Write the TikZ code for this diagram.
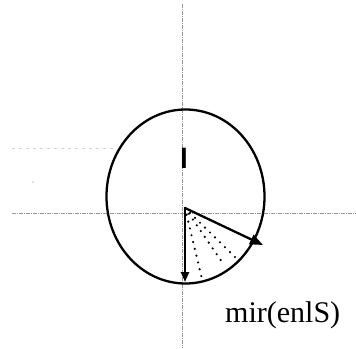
\documentclass[tikz,border=0pt]{standalone}
\usepackage{fontspec}
\setmainfont{Liberation Serif}
\newfontfamily\barfont{Liberation Sans}
\usetikzlibrary{arrows.meta,shapes.geometric}
\tikzset{
  axis/.style={gray!80, line width=0.9pt, dash pattern=on 4pt off 1pt on 1pt off 1pt},
  faint/.style={gray!35, line width=1pt, dash pattern=on 3pt off 4pt},
  curve/.style={black, line width=2.3pt},
  vec/.style={black, line width=2.3pt},
  ray/.style={black, line width=2.4pt, line cap=round, dash pattern=on 0pt off 7pt},
  lbl/.style={inner sep=0pt, font=\fontsize{30}{32}\selectfont}
}
\begin{document}
\begin{tikzpicture}[x=1pt,y=-1pt]
\useasboundingbox (0,0) rectangle (356,348);
% axes
\coordinate (xl) at (12,213);
\coordinate (xr) at (356,213);
\coordinate (yt) at (182,4);
\coordinate (yb) at (182,348);
\draw[axis] (xl) -- (xr);
\draw[axis] (yt) -- (yb);
% faint marks
\coordinate (fa) at (12,148);
\coordinate (fb) at (115,148);
\draw[faint] (fa) -- (fb);
\node[circle, fill=gray!40, inner sep=0pt, minimum size=2pt] (fd) at (33,182) {};
% ellipse
\node[draw, curve, ellipse, inner sep=0pt, minimum width=158pt, minimum height=174pt] (ell) at (185.5,196.5) {};
% small label
\node[inner sep=0pt, font=\barfont\bfseries\fontsize{28}{30}\selectfont, anchor=base] (bar) at (184,168) {l};
% vectors
\coordinate (O) at (185,208);
\coordinate (A) at (263,245);
\coordinate (B) at (185,282);
\coordinate (r1) at (202,279);
\coordinate (r2) at (222,262);
\coordinate (r3) at (239,261);
\draw[ray] (O) -- (r1);
\draw[ray] (O) -- (r2);
\draw[ray] (O) -- (r3);
\draw[vec, -{Triangle[length=13pt,width=10pt]}] (O) -- (A);
\draw[vec, -{Triangle[length=10pt,width=8pt]}] (O) -- (B);
% text
\node[lbl, anchor=base west] (txt) at (225,322) {mir(enlS)};
\end{tikzpicture}
\end{document}
